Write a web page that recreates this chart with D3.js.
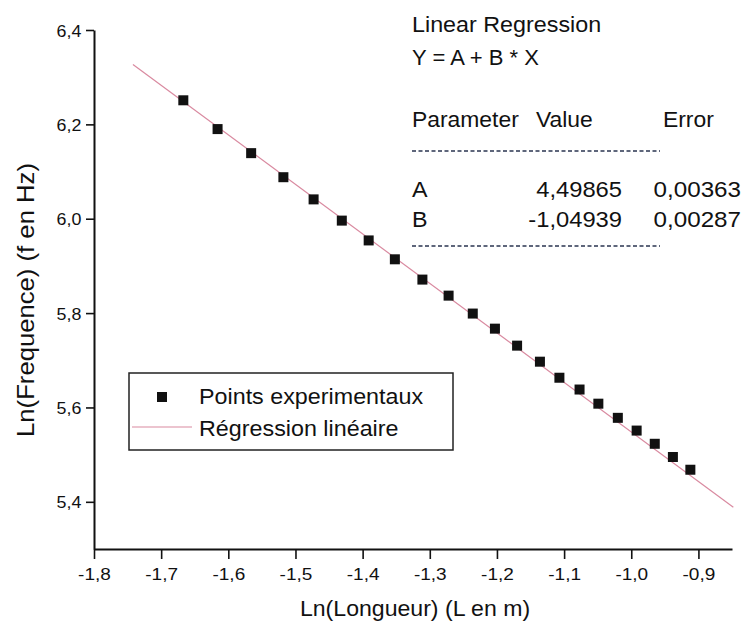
<!DOCTYPE html>
<html>
<head>
<meta charset="utf-8">
<script src="https://cdn.jsdelivr.net/npm/d3@7/dist/d3.min.js"></script>
<style>
    body { margin: 0; background: #fff; }
    svg { display: block; font-family: "Liberation Sans", Arial, sans-serif; }
</style>
</head>
<body>
<script>
// measured points, ln(L) and ln(f)
const lnLongueur = [-1.667, -1.616, -1.566, -1.518, -1.473, -1.431, -1.391, -1.352, -1.311, -1.272, -1.236,
    -1.203, -1.170, -1.136, -1.107, -1.077, -1.049, -1.020, -0.992, -0.965, -0.938, -0.912];
const lnFrequence = [6.251, 6.190, 6.139, 6.088, 6.041, 5.996, 5.954, 5.914, 5.871, 5.837, 5.799,
    5.767, 5.731, 5.697, 5.663, 5.638, 5.608, 5.578, 5.551, 5.523, 5.495, 5.468];

// fit Y = A + B * X
const regA = 4.49865;
const regB = -1.04939;
const regXRange = [-1.742, -0.848];
const paramRows = [
    ["A", "4,49865", "0,00363"],
    ["B", "-1,04939", "0,00287"],
];

const xMajorTicks = [-1.8, -1.7, -1.6, -1.5, -1.4, -1.3, -1.2, -1.1, -1.0, -0.9];
const xMinorTicks = [-1.75, -1.65, -1.55, -1.45, -1.35, -1.25, -1.15, -1.05, -0.95, -0.85];
const yMajorTicks = [5.4, 5.6, 5.8, 6.0, 6.2, 6.4];
const yMinorTicks = [5.3, 5.5, 5.7, 5.9, 6.1, 6.3];
const legendLabels = ["Points experimentaux", "Régression linéaire"];

window.onload = initPage;

function initPage() {
    const W = 744, H = 628;
    const svg = d3.select("body").append("svg").attr("width", W).attr("height", H);

    const x = d3.scaleLinear().domain([-1.8, -0.85]).range([94, 732]);
    const y = d3.scaleLinear().domain([5.3, 6.4]).range([549, 30]);

    const locale = d3.formatLocale({ decimal: ",", thousands: " ", grouping: [3], currency: ["", ""], minus: "-" });
    const fmt = locale.format(".1f");

    // x axis
    const gx = svg.append("g").attr("transform", `translate(0,${y(5.3)})`);
    gx.call(d3.axisBottom(x).tickValues(xMinorTicks).tickSize(6).tickSizeOuter(0).tickFormat(""));
    gx.call(d3.axisBottom(x).tickValues(xMajorTicks).tickSize(10).tickSizeOuter(0).tickFormat(fmt));

    // y axis
    const gy = svg.append("g").attr("transform", `translate(${x(-1.8)},0)`);
    gy.call(d3.axisLeft(y).tickValues(yMinorTicks).tickSize(5).tickSizeOuter(0).tickFormat(""));
    gy.call(d3.axisLeft(y).tickValues(yMajorTicks).tickSize(8).tickSizeOuter(0).tickFormat(fmt).tickPadding(4));

    svg.selectAll(".domain").attr("stroke", "#111").attr("stroke-width", 2);
    svg.selectAll(".tick line").attr("stroke", "#111").attr("stroke-width", 1.6);
    svg.selectAll(".tick text").attr("font-size", 17).attr("fill", "#111")
        .attr("font-family", "Liberation Sans, Arial, sans-serif");
    gx.selectAll(".tick text").attr("transform", "scale(1.12,1)").attr("dy", "1.05em");
    gy.selectAll(".tick text").attr("transform", "scale(1.05,1)").attr("dy", "0.36em");

    // axis titles
    addText(svg, (x(-1.8) + x(-0.85)) / 2 + 2, 616, "Ln(Longueur) (L en m)", 22, "middle", 1.05);
    svg.append("text")
        .attr("transform", `translate(34,${300}) rotate(-90) scale(1.07,1)`)
        .attr("text-anchor", "middle")
        .attr("font-size", 24)
        .attr("fill", "#111")
        .text("Ln(Frequence) (f en Hz)");

    // regression line
    svg.append("line")
        .attr("x1", x(regXRange[0])).attr("y1", y(regA + regB * regXRange[0]))
        .attr("x2", x(regXRange[1])).attr("y2", y(regA + regB * regXRange[1]))
        .attr("stroke", "#d98aa0")
        .attr("stroke-width", 1.2);

    // points
    const pts = lnLongueur.map((v, i) => [v, lnFrequence[i]]);
    const sq = 10;
    svg.selectAll("rect.pt")
        .data(pts)
        .enter()
        .append("rect")
        .attr("class", "pt")
        .attr("x", d => x(d[0]) - sq / 2)
        .attr("y", d => y(d[1]) - sq / 2)
        .attr("width", sq)
        .attr("height", sq)
        .attr("fill", "#111");

    // legend
    const leg = svg.append("g");
    leg.append("rect")
        .attr("x", 129).attr("y", 373).attr("width", 324).attr("height", 77)
        .attr("fill", "none").attr("stroke", "#222").attr("stroke-width", 1.5);
    leg.append("rect")
        .attr("x", 157).attr("y", 392).attr("width", 10).attr("height", 10).attr("fill", "#111");
    leg.append("line")
        .attr("x1", 132).attr("x2", 192).attr("y1", 427).attr("y2", 427)
        .attr("stroke", "#d98aa0").attr("stroke-width", 1.2);
    addText(leg, 199, 404, legendLabels[0], 22, "start", 1.06);
    addText(leg, 199, 436, legendLabels[1], 22, "start", 1.06);

    // regression info block
    const info = svg.append("g");
    addText(info, 412, 32, "Linear Regression", 22, "start", 1.06);
    addText(info, 412, 65, "Y = A + B * X", 22, "start", 1.0);
    addText(info, 412, 127, "Parameter", 22, "start", 1.04);
    addText(info, 536, 127, "Value", 22, "start", 1.04);
    addText(info, 663, 127, "Error", 22, "start", 1.04);
    const rowY = [197, 227];
    paramRows.forEach((row, i) => {
        addText(info, 412, rowY[i], row[0], 22, "start", 1.06);
        addText(info, 622, rowY[i], row[1], 22, "end", 1.08);
        addText(info, 741, rowY[i], row[2], 22, "end", 1.1);
    });
    [151, 246].forEach(ly => {
        info.append("line")
            .attr("x1", 412).attr("x2", 660).attr("y1", ly).attr("y2", ly)
            .attr("stroke", "#2a3550").attr("stroke-width", 1.6)
            .attr("stroke-dasharray", "4,2.5");
    });
}

function addText(sel, px, py, str, size, anchor, sx) {
    return sel.append("text")
        .attr("transform", `translate(${px},${py}) scale(${sx},1)`)
        .attr("text-anchor", anchor)
        .attr("font-size", size)
        .attr("fill", "#111")
        .text(str);
}
</script>
</body>
</html>
